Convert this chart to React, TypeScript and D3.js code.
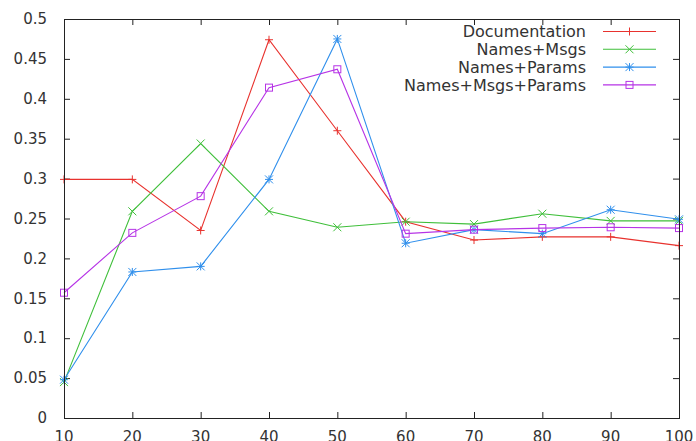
import * as d3 from 'd3';

const xValues = [10, 20, 30, 40, 50, 60, 70, 80, 90, 100];
const yTicks = [0, 0.05, 0.1, 0.15, 0.2, 0.25, 0.3, 0.35, 0.4, 0.45, 0.5];

const documentation = [0.299, 0.299, 0.235, 0.474, 0.36, 0.246, 0.223, 0.227, 0.227, 0.216];
const namesMsgs = [0.045, 0.259, 0.344, 0.259, 0.239, 0.246, 0.243, 0.256, 0.247, 0.247];
const namesParams = [0.048, 0.183, 0.19, 0.299, 0.475, 0.219, 0.236, 0.231, 0.261, 0.249];
const namesMsgsParams = [0.157, 0.232, 0.278, 0.414, 0.437, 0.231, 0.236, 0.238, 0.239, 0.238];

const series = [
  { name: 'Documentation', values: documentation, color: '#e8322e', marker: 'plus' },
  { name: 'Names+Msgs', values: namesMsgs, color: '#3fbf3a', marker: 'cross' },
  { name: 'Names+Params', values: namesParams, color: '#2f8fec', marker: 'star' },
  { name: 'Names+Msgs+Params', values: namesMsgsParams, color: '#b633e6', marker: 'box' },
];

const W = 696, H = 441;
const M = { top: 19, right: 17, bottom: 23, left: 64 };

function Marker({ type, x, y, color }: { type: string; x: number; y: number; color: string }) {
  const s = 4;
  if (type === 'plus') {
    return <path d={`M${x - s},${y}H${x + s}M${x},${y - s}V${y + s}`} stroke={color} fill="none" />;
  }
  if (type === 'cross') {
    return <path d={`M${x - s},${y - s}L${x + s},${y + s}M${x - s},${y + s}L${x + s},${y - s}`} stroke={color} fill="none" />;
  }
  if (type === 'star') {
    return <path d={`M${x - s},${y - s}L${x + s},${y + s}M${x - s},${y + s}L${x + s},${y - s}M${x - s},${y}H${x + s}M${x},${y - s}V${y + s}`} stroke={color} fill="none" />;
  }
  return <rect x={x - 3.5} y={y - 3.5} width={7} height={7} stroke={color} fill="none" />;
}

export default function App() {
  const x = d3.scaleLinear().domain([10, 100]).range([M.left, W - M.right]);
  const y = d3.scaleLinear().domain([0, 0.5]).range([H - M.bottom, M.top]);
  const line = d3.line<number>().x((_, i) => x(xValues[i])).y(d => y(d));
  const x0 = M.left, x1 = W - M.right, y0 = H - M.bottom, y1 = M.top;
  const tk = 6;

  return (
    <svg width={W} height={H} style={{ position: 'absolute', left: 0, top: 0, background: '#fff' }}
      fontFamily="DejaVu Sans, sans-serif" fontSize={15}>
      {/* ticks, mirrored on all sides */}
      <g stroke="#222" strokeWidth={1}>
        {yTicks.map(t => (
          <g key={t}>
            <line x1={x0} x2={x0 + tk} y1={y(t) + 0.5} y2={y(t) + 0.5} />
            <line x1={x1 - tk} x2={x1} y1={y(t) + 0.5} y2={y(t) + 0.5} />
          </g>
        ))}
        {xValues.map(t => (
          <g key={t}>
            <line x1={x(t) + 0.5} x2={x(t) + 0.5} y1={y0} y2={y0 - tk} />
            <line x1={x(t) + 0.5} x2={x(t) + 0.5} y1={y1} y2={y1 + tk} />
          </g>
        ))}
      </g>
      <g fill="#333">
        {yTicks.map(t => (
          <text key={t} x={x0 - 17} y={y(t)} dy="0.35em" textAnchor="end">{d3.format('~g')(t)}</text>
        ))}
        {xValues.map(t => (
          <text key={t} x={x(t)} y={y0 + 24} textAnchor="middle">{t}</text>
        ))}
      </g>
      {series.map(s => (
        <g key={s.name}>
          <path d={line(s.values) ?? ''} fill="none" stroke={s.color} strokeWidth={1.1} />
          {s.values.map((v, i) => (
            <Marker key={i} type={s.marker} x={x(xValues[i])} y={y(v)} color={s.color} />
          ))}
        </g>
      ))}
      {/* legend */}
      {series.map((s, i) => {
        const ly = 31.5 + i * 17.8;
        return (
          <g key={s.name}>
            <text x={586} y={ly} dy="0.35em" textAnchor="end" fill="#333" fontSize={16}>{s.name}</text>
            <line x1={603} x2={656} y1={ly} y2={ly} stroke={s.color} strokeWidth={1.1} />
            <Marker type={s.marker} x={629.5} y={ly} color={s.color} />
          </g>
        );
      })}
      <rect x={x0 + 0.5} y={y1 + 0.5} width={x1 - x0} height={y0 - y1} fill="none" stroke="#222" strokeWidth={1} />
    </svg>
  );
}
